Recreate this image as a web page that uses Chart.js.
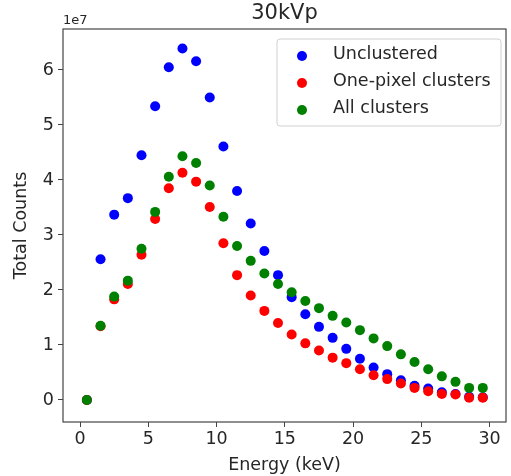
<!DOCTYPE html>
<html>
<head>
<meta charset="utf-8">
<script src="https://cdn.jsdelivr.net/npm/chart.js@4.4.1/dist/chart.umd.min.js"></script>
<style>
html,body{margin:0;padding:0;background:#fff;}
#wrap{width:511px;height:476px;position:relative;}
</style>
</head>
<body>
<div id="wrap"><canvas id="c" width="511" height="476"></canvas></div>
<script>
// Data (counts in units of 1e7)
const energies = [0.5,1.5,2.5,3.5,4.5,5.5,6.5,7.5,8.5,9.5,10.5,11.5,12.5,13.5,14.5,15.5,16.5,17.5,18.5,19.5,20.5,21.5,22.5,23.5,24.5,25.5,26.5,27.5,28.5,29.5];
const unclustered = [0,2.56,3.37,3.67,4.45,5.34,6.05,6.39,6.16,5.50,4.61,3.80,3.21,2.71,2.27,1.87,1.56,1.33,1.13,0.93,0.75,0.59,0.47,0.36,0.26,0.21,0.14,0.11,0.06,0.05];
const onePixel = [0,1.34,1.83,2.11,2.64,3.29,3.85,4.13,3.97,3.51,2.85,2.27,1.90,1.62,1.40,1.19,1.03,0.90,0.77,0.67,0.56,0.45,0.38,0.30,0.22,0.16,0.11,0.10,0.04,0.04];
const allClusters = [0,1.35,1.88,2.17,2.75,3.42,4.06,4.43,4.31,3.90,3.33,2.80,2.53,2.30,2.11,1.96,1.80,1.67,1.53,1.41,1.27,1.12,0.98,0.83,0.69,0.56,0.43,0.33,0.22,0.22];
const seriesNames = ['Unclustered','One-pixel clusters','All clusters'];
const seriesColors = ['#0000ff','#ff0000','#008000'];
const xTicks = [0,5,10,15,20,25,30];
const yTicks = [0,1,2,3,4,5,6];
const titleText = '30kVp';
const xLabel = 'Energy (keV)';
const yLabel = 'Total Counts';
const yOffsetText = '1e7';

const FONT = "'DejaVu Sans', sans-serif";
const FS = 17.5;
const toPts = arr => arr.map((v,i)=>({x:energies[i], y:v}));

const framePlugin = {
  id:'frame',
  afterDraw(chart){
    const ctx = chart.ctx, a = chart.chartArea;
    ctx.save();
    ctx.strokeStyle = '#444';
    ctx.lineWidth = 1.2;
    ctx.strokeRect(a.left, a.top, a.right-a.left, a.bottom-a.top);
    // title
    ctx.fillStyle = '#262626';
    ctx.font = "21px " + FONT;
    ctx.textAlign = 'center';
    ctx.textBaseline = 'middle';
    ctx.fillText(titleText, (a.left+a.right)/2, 14);
    // offset text
    ctx.font = "13px " + FONT;
    ctx.textAlign = 'left';
    ctx.textBaseline = 'bottom';
    ctx.fillText(yOffsetText, a.left, a.top - 2);
    // legend
    const lx = 277, ly = 39, lw = 224, lh = 87;
    ctx.fillStyle = 'rgba(255,255,255,0.8)';
    ctx.strokeStyle = '#d0d0d0';
    ctx.lineWidth = 1;
    ctx.beginPath();
    const r = 3;
    ctx.moveTo(lx+r, ly);
    ctx.arcTo(lx+lw, ly, lx+lw, ly+lh, r);
    ctx.arcTo(lx+lw, ly+lh, lx, ly+lh, r);
    ctx.arcTo(lx, ly+lh, lx, ly, r);
    ctx.arcTo(lx, ly, lx+lw, ly, r);
    ctx.closePath();
    ctx.fill();
    ctx.stroke();
    ctx.font = FS + "px " + FONT;
    ctx.textBaseline = 'middle';
    seriesNames.forEach((name,i)=>{
      const yy = 54 + i*27;
      ctx.fillStyle = seriesColors[i];
      ctx.beginPath();
      ctx.arc(302, yy+2, 5, 0, Math.PI*2);
      ctx.fill();
      ctx.fillStyle = '#262626';
      ctx.fillText(name, 333, yy);
    });
    ctx.restore();
  }
};

new Chart(document.getElementById('c'), {
  type:'scatter',
  data:{
    datasets:[
      {label:seriesNames[0], data:toPts(unclustered), backgroundColor:seriesColors[0], borderWidth:0, pointRadius:5, pointHoverRadius:5, order:3},
      {label:seriesNames[1], data:toPts(onePixel), backgroundColor:seriesColors[1], borderWidth:0, pointRadius:5, pointHoverRadius:5, order:2},
      {label:seriesNames[2], data:toPts(allClusters), backgroundColor:seriesColors[2], borderWidth:0, pointRadius:5, pointHoverRadius:5, order:1}
    ]
  },
  options:{
    responsive:false,
    animation:false,
    events:[],
    layout:{padding:{left:0,right:2,top:29,bottom:0}},
    plugins:{legend:{display:false}, tooltip:{enabled:false}, title:{display:false}},
    scales:{
      x:{
        type:'linear', min:-1.25, max:31.2,
        afterBuildTicks(s){ s.ticks = xTicks.map(v=>({value:v})); },
        afterFit(s){ s.height = 54; },
        grid:{drawOnChartArea:false, drawTicks:true, tickLength:5, color:'#444', tickColor:'#444'},
        border:{display:false},
        ticks:{color:'#262626', font:{family:FONT, size:FS}, padding:2, maxRotation:0},
        title:{display:true, text:xLabel, color:'#262626', font:{family:FONT, size:FS}, padding:{top:0,bottom:0}}
      },
      y:{
        type:'linear', min:-0.4, max:6.745,
        afterBuildTicks(s){ s.ticks = yTicks.map(v=>({value:v})); },
        afterFit(s){ s.width = 63; },
        grid:{drawOnChartArea:false, drawTicks:true, tickLength:5, color:'#444', tickColor:'#444'},
        border:{display:false},
        ticks:{color:'#262626', font:{family:FONT, size:FS}, padding:4},
        title:{display:true, text:yLabel, color:'#262626', font:{family:FONT, size:FS}, padding:{top:11,bottom:0}}
      }
    }
  },
  plugins:[framePlugin]
});
</script>
</body>
</html>
